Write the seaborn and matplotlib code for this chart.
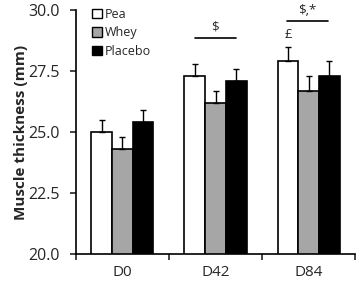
import matplotlib
matplotlib.use("Agg")
import matplotlib.pyplot as plt
import seaborn as sns
import pandas as pd
from matplotlib.patches import Patch
from matplotlib.ticker import FormatStrFormatter, MultipleLocator

days = ["D0", "D42", "D84"]
groups = ["Pea", "Whey", "Placebo"]
pea = [25.0, 27.3, 27.9]
whey = [24.3, 26.2, 26.7]
placebo = [25.4, 27.1, 27.3]
pea_err = [0.5, 0.5, 0.6]
whey_err = [0.5, 0.5, 0.6]
placebo_err = [0.5, 0.5, 0.6]
colors = ["#ffffff", "#a6a6a6", "#000000"]

rows = []
for g, vals in zip(groups, [pea, whey, placebo]):
    for d, v in zip(days, vals):
        rows.append({"day": d, "group": g, "value": v})
df = pd.DataFrame(rows)
errs = {"Pea": pea_err, "Whey": whey_err, "Placebo": placebo_err}

sns.set_style("white")
plt.rcParams["font.family"] = ["Open Sans", "DejaVu Sans"]

fig = plt.figure(figsize=(3.58, 2.83), dpi=100)
ax = fig.add_axes([0.212, 0.1025, 0.78, 0.862])

sns.barplot(data=df, x="day", y="value", hue="group", order=days, hue_order=groups,
            palette=colors, edgecolor="black", linewidth=1.2, width=0.667,
            errorbar=None, ax=ax, legend=False)

for cont, g in zip(ax.containers, groups):
    for bar, e in zip(cont, errs[g]):
        xc = bar.get_x() + bar.get_width() / 2
        h = bar.get_y() + bar.get_height()
        ax.errorbar([xc], [h], yerr=[[0], [e]], fmt="none", ecolor="black",
                    elinewidth=1.0, capsize=2.5, capthick=1.0)

ax.set_ylim(20, 30)
ax.set_xlim(-0.5, 2.5)
ax.yaxis.set_major_locator(MultipleLocator(2.5))
ax.yaxis.set_major_formatter(FormatStrFormatter("%.1f"))
ax.set_xticks([0, 1, 2])
ax.set_xticklabels(days)
ax.set_xticks([-0.5, 0.5, 1.5, 2.5], minor=True)
ax.tick_params(axis="x", which="major", length=0, pad=8, labelsize=11)
ax.tick_params(axis="x", which="minor", length=4, width=1.2, direction="out", bottom=True)
ax.tick_params(axis="y", which="major", length=4.5, width=1.2, direction="out", left=True, labelsize=11.5, pad=7)
for s in ["top", "right"]:
    ax.spines[s].set_visible(False)
for s in ["left", "bottom"]:
    ax.spines[s].set_linewidth(1.2)
    ax.spines[s].set_color("black")
ax.set_xlabel("")
ax.set_ylabel("Muscle thickness (mm)", fontsize=11, fontweight="bold", labelpad=0)

# significance annotations
ax.plot([0.775, 1.215], [28.85, 28.85], color="black", lw=1.2)
ax.text(0.995, 29.3, "$", ha="center", va="center", fontsize=9.5)
ax.plot([1.77, 2.21], [29.55, 29.55], color="black", lw=1.2)
ax.text(1.99, 30.0, "$,*", ha="center", va="center", fontsize=9.5, clip_on=False)
ax.text(1.778, 28.98, "£", ha="center", va="center", fontsize=9.5)

handles = [Patch(facecolor=c, edgecolor="black", linewidth=1.0) for c in colors]
ax.legend(handles, groups, loc="upper left", bbox_to_anchor=(0.04, 1.03), frameon=False,
          fontsize=9, handlelength=0.8, handleheight=0.8, handletextpad=0.25,
          labelspacing=0.45, borderaxespad=0)

fig.savefig("out.png", dpi=100)
